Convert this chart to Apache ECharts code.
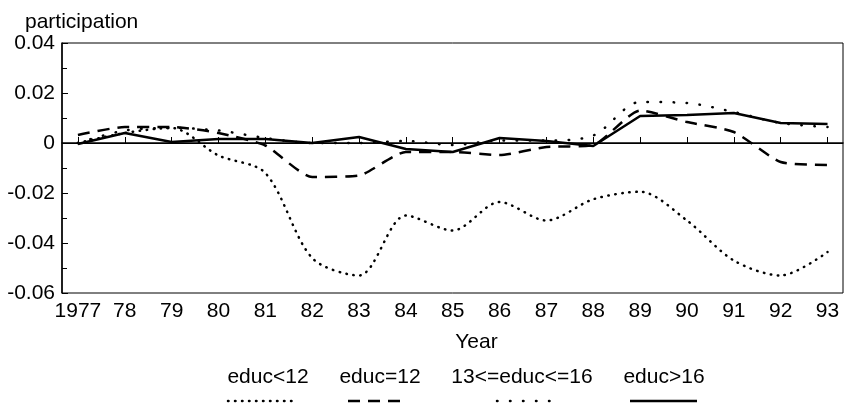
<!DOCTYPE html>
<html>
<head>
<meta charset="utf-8">
<script src="https://cdn.jsdelivr.net/npm/echarts@6/dist/echarts.min.js"></script>
<style>html,body{margin:0;padding:0;background:#fff;}#c{width:845px;height:407px;}</style>
</head>
<body>
<div id="c"></div>
<script>
const years = [1977,1978,1979,1980,1981,1982,1983,1984,1985,1986,1987,1988,1989,1990,1991,1992,1993];
const seriesNames = ['educ<12','educ=12','13<=educ<=16','educ>16'];
const educLt12 = [0, 0.004, 0.006, -0.005, -0.012, -0.046, -0.053, -0.029, -0.035, -0.0236, -0.031, -0.0225, -0.0195, -0.031, -0.047, -0.053, -0.0436];
const educEq12 = [0.0032, 0.0064, 0.0064, 0.004, -0.001, -0.0136, -0.013, -0.0036, -0.0036, -0.0048, -0.0016, -0.0008, 0.013, 0.0084, 0.0044, -0.0076, -0.0088];
const educ13to16 = [0, 0.005, 0.006, 0.005, 0.002, 0, 0, 0.0008, -0.0008, 0.001, 0.001, 0.003, 0.0164, 0.016, 0.0124, 0.008, 0.0064];
const educGt16 = [-0.0004, 0.004, 0.0004, 0.0016, 0.0016, 0, 0.0024, -0.0024, -0.0036, 0.002, 0.0008, -0.0012, 0.0108, 0.0112, 0.012, 0.008, 0.0076];
const yTicks = [-0.06, -0.04, -0.02, 0, 0.02, 0.04];

const FONT = "'Liberation Sans', Arial, Helvetica, sans-serif";
const FS = 21;
const styles = [
  {width: 2.5, type: [0.5, 6.5], cap: 'round', smooth: 0.3},
  {width: 2.5, type: [12, 8], cap: 'butt', smooth: 0.2},
  {width: 2.5, type: [0.5, 12.5], cap: 'round', smooth: 0.3},
  {width: 2.5, type: 'solid', cap: 'butt', smooth: false}
];
const values = [educLt12, educEq12, educ13to16, educGt16];

const chart = echarts.init(document.getElementById('c'), null, {renderer: 'canvas'});

const legendX = [
  {text: 268, x1: 228, x2: 295},
  {text: 380, x1: 348, x2: 403},
  {text: 522, x1: 497, x2: 550},
  {text: 664, x1: 630, x2: 697}
];
const graphics = [];
seriesNames.forEach((n, i) => {
  graphics.push({
    type: 'text', x: legendX[i].text, y: 377, silent: true,
    style: {text: n, font: FS + 'px ' + FONT, fill: '#000', textAlign: 'center', textVerticalAlign: 'middle'}
  });
  graphics.push({
    type: 'line', silent: true,
    shape: {x1: legendX[i].x1, y1: 401, x2: legendX[i].x2, y2: 401},
    style: {stroke: '#000', lineWidth: styles[i].width, lineDash: styles[i].type === 'solid' ? null : styles[i].type, lineCap: styles[i].cap}
  });
});

chart.setOption({
  animation: false,
  backgroundColor: '#fff',
  textStyle: {fontFamily: FONT, color: '#000'},
  grid: {left: 62, right: 2, top: 43, bottom: 114, show: true, borderColor: '#000', borderWidth: 1, backgroundColor: 'transparent'},
  xAxis: {
    type: 'value', min: 1976.66, max: 1993.33,
    name: 'Year', nameLocation: 'middle', nameGap: 39,
    nameTextStyle: {fontSize: FS, color: '#000', fontFamily: FONT, padding: [0, 0, 0, 48]},
    axisLine: {show: true, lineStyle: {color: '#000', width: 1.5}},
    axisTick: {show: true, inside: true, length: 6, customValues: years, lineStyle: {color: '#000', width: 1}},
    axisLabel: {show: true, customValues: years, margin: 8, fontSize: FS, color: '#000', fontFamily: FONT,
      formatter: v => (Math.round(v) === 1977 ? '1977' : String(Math.round(v)).slice(2))},
    splitLine: {show: false}
  },
  yAxis: {
    type: 'value', min: -0.06, max: 0.04, interval: 0.02,
    name: 'participation', nameLocation: 'end', nameGap: 0,
    nameTextStyle: {fontSize: FS, color: '#000', fontFamily: FONT, align: 'left', verticalAlign: 'middle', padding: [0, 0, 70, -37]},
    axisLine: {show: true, lineStyle: {color: '#000', width: 1.5}},
    axisTick: {show: true, inside: true, length: 6, lineStyle: {color: '#000', width: 1}},
    minorTick: {show: true, splitNumber: 2, length: 5, lineStyle: {color: '#000', width: 1}},
    axisLabel: {margin: 7, fontSize: FS, color: '#000', fontFamily: FONT,
      formatter: v => (Math.abs(v) < 1e-9 ? '0' : v.toFixed(2))},
    splitLine: {show: false}
  },
  series: seriesNames.map((n, i) => ({
    name: n, type: 'line', symbol: 'none', smooth: styles[i].smooth,
    data: years.map((y, k) => [y, values[i][k]]),
    lineStyle: {color: '#000', width: styles[i].width, type: styles[i].type, cap: styles[i].cap},
    z: 3,
    markLine: i === 0 ? {
      silent: true, symbol: 'none', label: {show: false},
      lineStyle: {color: '#000', width: 1, type: 'solid'},
      data: [{yAxis: 0}]
    } : undefined
  })),
  graphic: graphics
});
</script>
</body>
</html>
